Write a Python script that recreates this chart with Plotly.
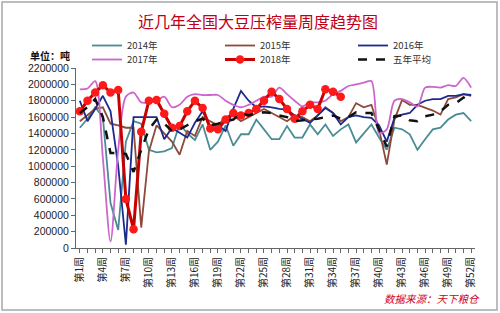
import plotly.graph_objects as go

weeks = list(range(1, 53))
tick_weeks = list(range(1, 53, 3))
tick_labels = [f"第{w}周" for w in tick_weeks]

y2014 = [1470000, 1580000, 1720000, 1600000, 550000, 220000, 1300000, 1550000, 1520000, 1200000,
         1170000, 1180000, 1220000, 1520000, 1400000, 1320000, 1510000, 1200000, 1300000, 1500000,
         1250000, 1390000, 1390000, 1570000, 1450000, 1330000, 1330000, 1490000, 1350000, 1350000,
         1510000, 1390000, 1510000, 1370000, 1450000, 1510000, 1290000, 1400000, 1510000, 1350000,
         1200000, 1470000, 1450000, 1390000, 1200000, 1330000, 1450000, 1470000, 1570000, 1630000,
         1650000, 1550000]
y2015 = [1550000, 1620000, 1700000, 1720000, 1520000, 1500000, 1470000, 1470000, 250000, 1180000,
         1500000, 1400000, 1300000, 1140000, 1430000, 1370000, 1600000, 1550000, 1500000, 1600000,
         1620000, 1550000, 1600000, 1650000, 1700000, 1650000, 1600000, 1550000, 1620000, 1600000,
         1550000, 1620000, 1720000, 1650000, 1550000, 1600000, 1770000, 1720000, 1750000, 1450000,
         1020000, 1570000, 1810000, 1750000, 1750000, 1710000, 1680000, 1630000, 1820000, 1840000,
         1880000, 1860000]
y2016 = [1800000, 1550000, 1700000, 1860000, 1670000, 1000000, 40000, 1600000, 1600000, 1600000,
         1600000, 1330000, 1470000, 1410000, 1350000, 1530000, 1670000, 1490000, 1500000, 1430000,
         1700000, 1920000, 1800000, 1720000, 1730000, 1720000, 1700000, 1690000, 1620000, 1580000,
         1530000, 1620000, 1710000, 1650000, 1510000, 1600000, 1620000, 1600000, 1590000, 1500000,
         1300000, 1590000, 1630000, 1650000, 1750000, 1800000, 1820000, 1820000, 1860000, 1860000,
         1880000, 1870000]
y2017 = [1940000, 1950000, 2040000, 1100000, 80000, 1200000, 1850000, 1900000, 1780000, 1780000,
         1800000, 1850000, 1720000, 1750000, 1850000, 1880000, 1870000, 1870000, 1870000, 1800000,
         1750000, 1720000, 1750000, 1800000, 1850000, 1850000, 1960000, 1880000, 1800000, 1730000,
         1780000, 1780000, 1800000, 1880000, 1920000, 1980000, 2000000, 2020000, 2040000, 1400000,
         1450000, 1800000, 1820000, 1780000, 1730000, 1960000, 1970000, 1960000, 1990000, 1980000,
         2080000, 1960000]
y2018 = [1670000, 1800000, 1900000, 1990000, 1900000, 1930000, 600000, 230000, 1420000, 1800000,
         1810000, 1640000, 1470000, 1490000, 1670000, 1800000, 1710000, 1460000, 1450000, 1570000,
         1650000, 1620000, 1650000, 1700000, 1800000, 1910000, 1820000, 1700000, 1580000, 1670000,
         1750000, 1700000, 1940000, 1910000, 1850000]
yavg = [1650000, 1720000, 1820000, 1600000, 1160000, 1160000, 1150000, 930000, 1200000, 1450000,
        1570000, 1520000, 1430000, 1450000, 1500000, 1550000, 1580000, 1500000, 1520000, 1550000,
        1570000, 1650000, 1620000, 1650000, 1660000, 1650000, 1620000, 1600000, 1550000, 1560000,
        1570000, 1580000, 1600000, 1620000, 1580000, 1600000, 1660000, 1650000, 1650000, 1450000,
        1240000, 1610000, 1620000, 1560000, 1550000, 1610000, 1630000, 1670000, 1750000, 1770000,
        1840000, 1780000]

font_cn = "Noto Sans CJK SC"
fig = go.Figure()
fig.add_trace(go.Scatter(x=weeks, y=y2014, name="2014年", mode="lines",
                         line=dict(color="#4A8C95", width=1.8), legend="legend"))
fig.add_trace(go.Scatter(x=weeks, y=y2015, name="2015年", mode="lines",
                         line=dict(color="#8E4A3A", width=1.8), legend="legend"))
fig.add_trace(go.Scatter(x=weeks, y=y2016, name="2016年", mode="lines",
                         line=dict(color="#1C2A8C", width=1.8), legend="legend"))
fig.add_trace(go.Scatter(x=weeks, y=y2017, name="2017年", mode="lines",
                         line=dict(color="#CC66CC", width=1.8, shape="spline", smoothing=0.8),
                         legend="legend2"))
fig.add_trace(go.Scatter(x=weeks[:len(y2018)], y=y2018, name="2018年", mode="lines+markers",
                         line=dict(color="#C80000", width=3),
                         marker=dict(color="#FF1A1A", size=8.5), legend="legend2"))
fig.add_trace(go.Scatter(x=weeks, y=yavg, name="五年平均", mode="lines",
                         line=dict(color="#111111", width=2.5, dash="dash"), legend="legend2"))

L, R, T, B = 76, 25, 68, 65
W, H = 500, 313
pw, ph = W - L - R, H - T - B

def px_x(p):
    return (p - L) / pw

def px_y(p):
    return (H - B - p) / ph

leg_common = dict(orientation="h", xanchor="left", yanchor="middle", entrywidth=88,
                  entrywidthmode="pixels", font=dict(family=font_cn, size=9.5, color="#333333"),
                  bgcolor="rgba(0,0,0,0)", itemclick=False)

fig.update_layout(
    width=W, height=H,
    margin=dict(l=L, r=R, t=T, b=B),
    paper_bgcolor="white", plot_bgcolor="white",
    showlegend=True,
    legend=dict(x=px_x(87), y=px_y(45.5), **leg_common),
    legend2=dict(x=px_x(87), y=px_y(59.5), **leg_common),
    title=dict(text="近几年全国大豆压榨量周度趋势图", x=0.516, xanchor="center", y=1 - 22 / H,
               yanchor="middle", font=dict(family=font_cn, size=16, color="#C00018")),
    xaxis=dict(range=[0.5, 52.5], tickmode="array", tickvals=tick_weeks, ticktext=tick_labels,
               tickangle=-90, ticks="outside", ticklen=4, tickcolor="#666666",
               minor=dict(dtick=1, tick0=0, ticks="outside", ticklen=4, tickcolor="#666666"),
               showline=True, linecolor="#666666", linewidth=1, showgrid=False, zeroline=False,
               tickfont=dict(family=font_cn, size=10, color="#222222")),
    yaxis=dict(range=[0, 2200000], tickmode="linear", tick0=0, dtick=200000, tickformat="d",
               ticks="outside", ticklen=4, tickcolor="#666666", showline=True,
               linecolor="#666666", linewidth=1, showgrid=False, zeroline=False,
               tickfont=dict(family="Liberation Sans", size=10.5, color="#222222")),
)

fig.add_annotation(text="<b>单位：吨</b>", xref="paper", yref="paper", x=px_x(28), y=px_y(55.5),
                   xanchor="left", yanchor="middle", showarrow=False,
                   font=dict(family=font_cn, size=10, color="#111111"))
fig.add_annotation(text="<i>数据来源：天下粮仓</i>", xref="paper", yref="paper", x=px_x(482),
                   y=px_y(298), xanchor="right", yanchor="middle", showarrow=False,
                   font=dict(family=font_cn, size=10.5, color="#D0001C"))
fig.add_shape(type="rect", xref="paper", yref="paper", x0=px_x(2), x1=px_x(497),
              y0=px_y(310), y1=px_y(2), line=dict(color="#A8A8A8", width=1.5), layer="below")

fig.write_html("out.html")
